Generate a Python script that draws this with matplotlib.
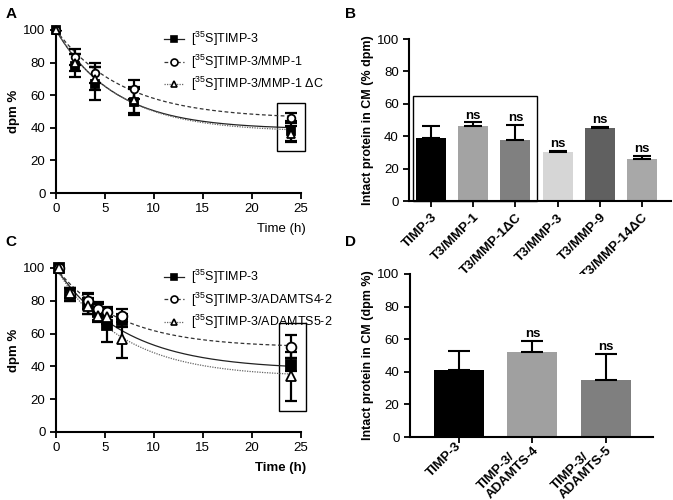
import numpy as np
import matplotlib
matplotlib.use("Agg")
import matplotlib.pyplot as plt
from matplotlib.patches import Rectangle

plt.rcParams['font.family'] = ['Liberation Sans', 'DejaVu Sans']
plt.rcParams['mathtext.fontset'] = 'custom'
plt.rcParams['mathtext.rm'] = 'Liberation Sans'
plt.rcParams['mathtext.it'] = 'Liberation Sans'

# ---- panel A: time course, MMPs ----
time_a = [0, 2, 4, 8, 24]
timp3_a = [100, 78, 67, 56, 38]
timp3_a_err = [0, 7, 10, 8, 6]
mmp1_a = [100, 83.5, 73.5, 63.5, 46]
mmp1_a_err = [0, 5, 6, 6, 3]
mmp1dc_a = [100, 80, 70, 57, 36]
mmp1dc_a_err = [0, 5, 7, 8, 5]
# one-phase decay fits: plateau, rate (1/h)
fit_plateau_a = [39, 45.5, 37.5]
fit_rate_a = [0.167, 0.147, 0.160]
labels_a = [r"[$^{35}$S]TIMP-3", r"[$^{35}$S]TIMP-3/MMP-1", r"[$^{35}$S]TIMP-3/MMP-1 ΔC"]

# ---- panel B: bars ----
cats_b = ["TIMP-3", "T3/MMP-1", "T3/MMP-1ΔC", "T3/MMP-3", "T3/MMP-9", "T3/MMP-14ΔC"]
vals_b = [39, 46, 37.5, 30, 45, 26]
errs_b = [7, 2.5, 9.5, 1, 0.6, 2]
ns_b = ["", "ns", "ns", "ns", "ns", "ns"]
colors_b = ["#000000", "#a3a3a3", "#808080", "#d6d6d6", "#606060", "#a8a8a8"]

# ---- panel C: time course, ADAMTS ----
time_c = [0.3, 1.4, 3.3, 4.25, 5.2, 6.7, 24]
timp3_c = [100, 84, 78, 73, 65, 68, 41]
timp3_c_err = [0, 4, 6, 5, 10, 4, 4]
ad4_c = [100, 84, 80, 75, 73, 71, 52]
ad4_c_err = [0, 4, 5, 4, 3, 4, 7]
ad5_c = [100, 85, 77, 71, 70, 57, 34]
ad5_c_err = [0, 3, 5, 4, 4, 12, 15]
fit_plateau_c = [38, 51.5, 33.5]
fit_rate_c = [0.142, 0.155, 0.150]
labels_c = [r"[$^{35}$S]TIMP-3", r"[$^{35}$S]TIMP-3/ADAMTS4-2", r"[$^{35}$S]TIMP-3/ADAMTS5-2"]

# ---- panel D: bars ----
cats_d = ["TIMP-3", "TIMP-3/\nADAMTS-4", "TIMP-3/\nADAMTS-5"]
vals_d = [41, 52, 35]
errs_d = [12, 7, 16]
ns_d = ["", "ns", "ns"]
colors_d = ["#000000", "#a0a0a0", "#7f7f7f"]

fig = plt.figure(figsize=(6.73, 5.0), dpi=100)


def style_axes(ax):
    for s in ['top', 'right']:
        ax.spines[s].set_visible(False)
    for s in ['left', 'bottom']:
        ax.spines[s].set_linewidth(1.5)
    ax.tick_params(width=1.3, length=4, labelsize=9.5)


def time_panel(ax, t, series, errs, plateaus, rates, labels, msize, bold_time):
    markers = ['s', 'o', '^']
    faces = ['black', 'white', 'white']
    styles = ['-', (0, (3, 2)), (0, (1, 1))]
    lcolors = ['#222222', '#333333', '#666666']
    tt = np.linspace(0, 24, 200)
    handles = []
    for i in range(3):
        ax.plot(tt, plateaus[i] + (100 - plateaus[i]) * np.exp(-rates[i] * tt),
                color=lcolors[i], ls=styles[i], lw=0.9, zorder=2)
        ax.errorbar(t, series[i], yerr=errs[i], fmt='none', ecolor='black',
                    elinewidth=1.6, capsize=4, capthick=1.6, zorder=3)
        ax.plot(t, series[i], ls='none', marker=markers[i], ms=msize,
                mfc=faces[i], mec='black', mew=1.3, zorder=4, clip_on=False)
        h, = ax.plot([], [], color=lcolors[i], ls=styles[i], lw=0.9,
                     marker=markers[i], ms=5, mfc=faces[i], mec='black', mew=1.2)
        handles.append(h)
    ax.set_xlim(0, 25)
    ax.set_ylim(0, 100)
    ax.set_xticks([0, 5, 10, 15, 20, 25])
    ax.set_yticks([0, 20, 40, 60, 80, 100])
    ax.set_ylabel("dpm %", fontsize=9.5, fontweight='bold', labelpad=2)
    ax.text(1.02, -0.22, "Time (h)", transform=ax.transAxes, ha='right', va='center',
            fontsize=9.5, fontweight='bold' if bold_time else 'normal')
    ax.legend(handles, labels, loc='upper left', bbox_to_anchor=(0.42, 1.03),
              frameon=False, fontsize=9, handlelength=1.6, handletextpad=0.6,
              labelspacing=0.35, borderaxespad=0)
    style_axes(ax)


def bar_panel(ax, cats, vals, errs, ns, colors, width, cap, ylabel, va, fs):
    x = np.arange(len(cats))
    ax.bar(x, vals, width=width, color=colors, edgecolor='none', zorder=2)
    ax.errorbar(x, vals, yerr=[np.zeros(len(vals)), errs], fmt='none', ecolor='black',
                elinewidth=1.5, capsize=cap, capthick=1.5, zorder=3)
    for xi, v, e, s in zip(x, vals, errs, ns):
        if s:
            ax.text(xi, v + e + 0.5, s, ha='center', va='bottom', fontsize=9.5, fontweight='bold')
    ax.set_ylim(0, 100)
    ax.set_yticks([0, 20, 40, 60, 80, 100])
    ax.set_xticks(x)
    ax.set_xticklabels(cats, rotation=45, ha='right', va=va, rotation_mode='anchor',
                       fontsize=fs, fontweight='bold', multialignment='left',
                       linespacing=1.0)
    ax.set_ylabel(ylabel, fontsize=9, fontweight='bold', labelpad=2)
    style_axes(ax)


ax_a = fig.add_axes([0.083, 0.614, 0.364, 0.326])
time_panel(ax_a, time_a, [timp3_a, mmp1_a, mmp1dc_a], [timp3_a_err, mmp1_a_err, mmp1dc_a_err],
           fit_plateau_a, fit_rate_a, labels_a, 5.5, False)
ax_a.add_patch(Rectangle((22.6, 26), 2.8, 29, fill=False, lw=1.0, ec='black', clip_on=False))

ax_b = fig.add_axes([0.608, 0.598, 0.389, 0.324])
bar_panel(ax_b, cats_b, vals_b, errs_b, ns_b, colors_b, 0.71, 6.5,
          "Intact protein in CM (% dpm)", 'top', 7)
ax_b.set_xlim(-0.52, 5.69)
ax_b.add_patch(Rectangle((-0.43, 0.3), 2.94, 64.7, fill=False, lw=1.0, ec='black', clip_on=False))

ax_c = fig.add_axes([0.083, 0.136, 0.364, 0.328])
time_panel(ax_c, time_c, [timp3_c, ad4_c, ad5_c], [timp3_c_err, ad4_c_err, ad5_c_err],
           fit_plateau_c, fit_rate_c, labels_c, 7, True)
ax_c.add_patch(Rectangle((22.8, 13), 2.7, 53.5, fill=False, lw=1.0, ec='black', clip_on=False))

ax_d = fig.add_axes([0.609, 0.126, 0.361, 0.326])
bar_panel(ax_d, cats_d, vals_d, errs_d, ns_d, colors_d, 0.68, 8,
          "Intact protein in CM (dpm %)", 'center', 6.8)
ax_d.tick_params(axis='x', pad=1)
ax_d.set_xlim(-0.67, 2.64)

for lbl, x, y in [("A", 0.008, 0.985), ("B", 0.513, 0.985), ("C", 0.008, 0.53), ("D", 0.513, 0.53)]:
    fig.text(x, y, lbl, fontsize=11, fontweight='bold', ha='left', va='top')

fig.savefig("out.png", dpi=100)
